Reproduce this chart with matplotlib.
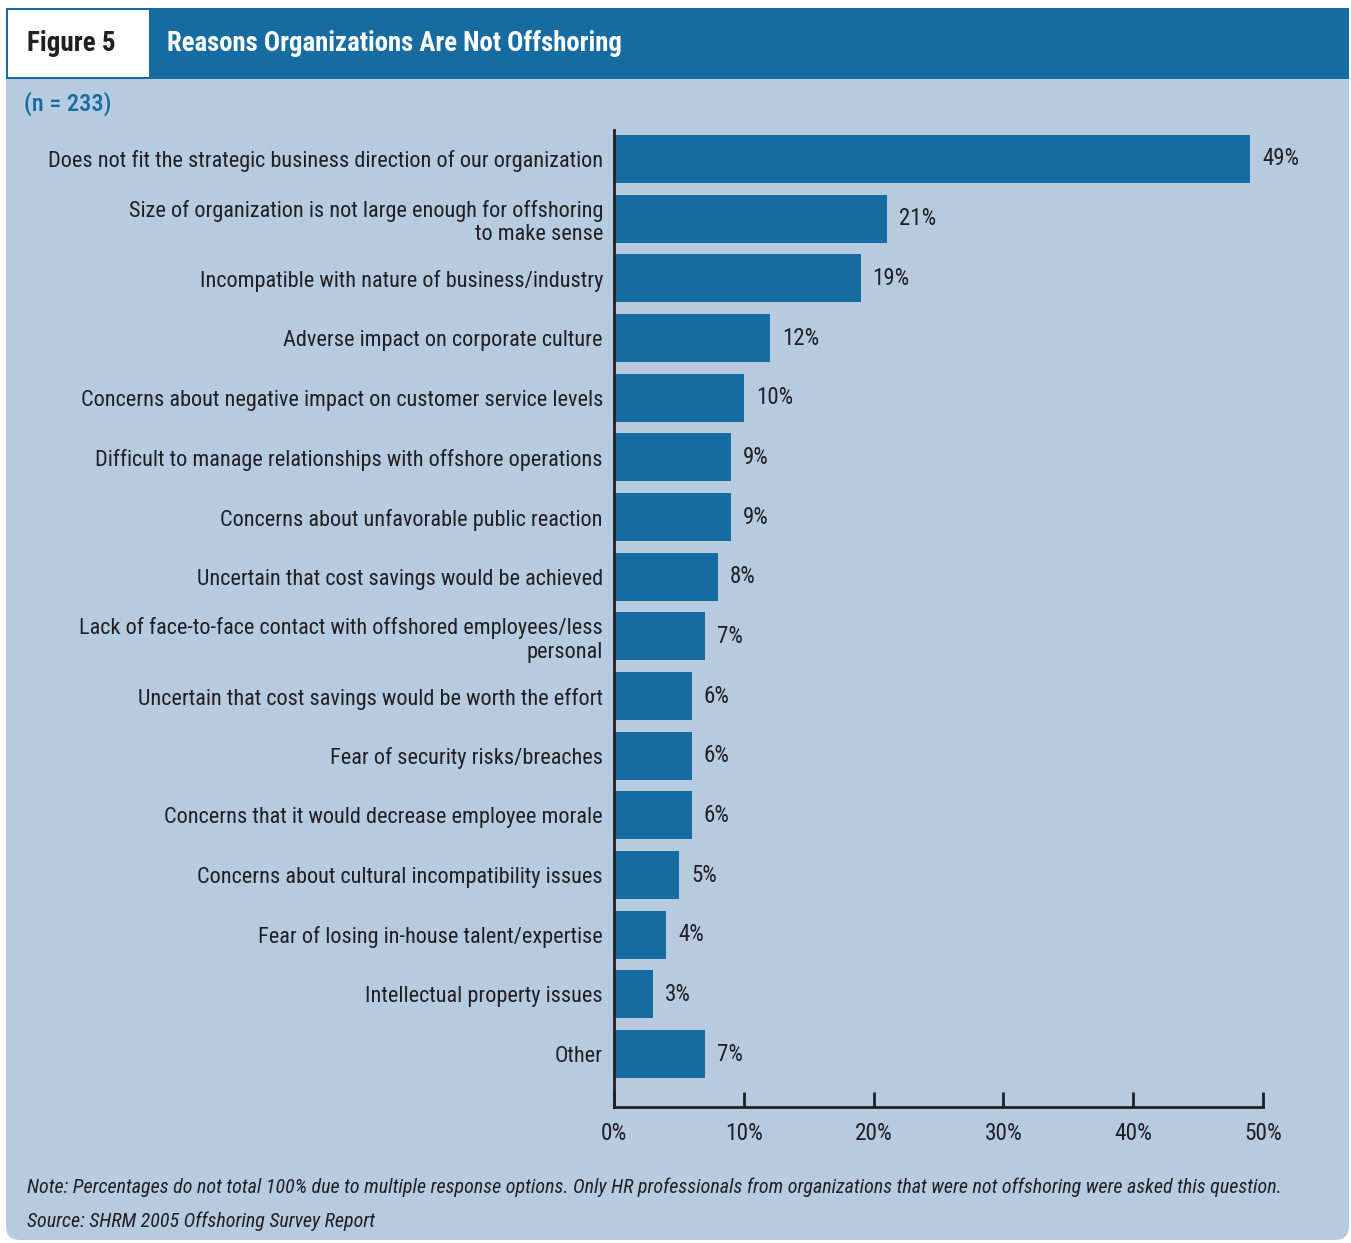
import matplotlib
matplotlib.use("Agg")
import matplotlib.pyplot as plt
from matplotlib.patches import Rectangle, FancyBboxPatch
from matplotlib.ticker import FuncFormatter

# survey data: share of respondents citing each reason (%)
reasons = [
    "Does not fit the strategic business direction of our organization",
    "Size of organization is not large enough for offshoring\nto make sense",
    "Incompatible with nature of business/industry",
    "Adverse impact on corporate culture",
    "Concerns about negative impact on customer service levels",
    "Difficult to manage relationships with offshore operations",
    "Concerns about unfavorable public reaction",
    "Uncertain that cost savings would be achieved",
    "Lack of face-to-face contact with offshored employees/less\npersonal",
    "Uncertain that cost savings would be worth the effort",
    "Fear of security risks/breaches",
    "Concerns that it would decrease employee morale",
    "Concerns about cultural incompatibility issues",
    "Fear of losing in-house talent/expertise",
    "Intellectual property issues",
    "Other",
]
percents = [49, 21, 19, 12, 10, 9, 9, 8, 7, 6, 6, 6, 5, 4, 3, 7]
x_ticks = [0, 10, 20, 30, 40, 50]

BAR = "#166ca1"
PANEL = "#b6cbe0"
INK = "#231f20"
FONT = ["Roboto Condensed", "DejaVu Sans"]

plt.rcParams["font.family"] = FONT

W, H = 1351, 1243
fig = plt.figure(figsize=(W / 100, H / 100), dpi=100)
fig.patch.set_facecolor("white")

# background layer in pixel coordinates
bg = fig.add_axes([0, 0, 1, 1])
bg.set_xlim(0, W)
bg.set_ylim(H, 0)
bg.axis("off")
bg.add_patch(FancyBboxPatch((6, 8), 1343, 1232,
                            boxstyle="round,pad=0,rounding_size=14",
                            facecolor=PANEL, edgecolor="none"))
bg.add_patch(Rectangle((6, 8), 1343, 71, facecolor=BAR, edgecolor="none"))
bg.add_patch(Rectangle((8, 10), 141, 67, facecolor="white",
                       edgecolor="none"))
bg.text(27, 43, "Figure 5", fontsize=19.5, fontweight="bold", color=INK,
        va="center", ha="left")
bg.text(167, 43, "Reasons Organizations Are Not Offshoring", fontsize=19.3,
        fontweight="semibold", color="white", va="center", ha="left")
bg.text(24, 104, "(n = 233)", fontsize=17.5, fontweight="medium", color=BAR,
        va="center", ha="left")
bg.text(27, 1187, "Note: Percentages do not total 100% due to multiple "
        "response options. Only HR professionals from organizations that "
        "were not offshoring were asked this question.",
        fontsize=14.4, style="italic", color=INK, va="center", ha="left")
bg.text(27, 1221, "Source: SHRM 2005 Offshoring Survey Report",
        fontsize=14.4, style="italic", color=INK, va="center", ha="left")

# bar chart
ax = fig.add_axes([614 / W, 1 - 1107 / H, (1263 - 614) / W, (1107 - 130) / H])
ax.set_facecolor("none")
pos = list(range(len(reasons)))
ax.barh(pos, percents, height=0.8, color=BAR, edgecolor="none")
ax.set_xlim(0, 50)
ax.set_ylim(len(reasons) - 0.112, -0.486)

for y, v in zip(pos, percents):
    ax.annotate(f"{v}%", (v, y), xytext=(12, 0), textcoords="offset pixels",
                va="center", ha="left", fontsize=16.5, color=INK)

ax.set_yticks(pos)
ax.set_yticklabels(reasons, fontsize=16, color=INK, linespacing=1.15)
ax.tick_params(axis="y", length=0, pad=8)
ax.set_xticks(x_ticks)
ax.xaxis.set_major_formatter(FuncFormatter(lambda v, _: f"{v:.0f}%"))
ax.tick_params(axis="x", direction="in", length=11, width=2, color=INK,
               labelsize=16.8, labelcolor=INK, pad=11)
for s in ("top", "right"):
    ax.spines[s].set_visible(False)
for s in ("left", "bottom"):
    ax.spines[s].set_linewidth(2)
    ax.spines[s].set_color(INK)

fig.savefig("out.png", dpi=100)
